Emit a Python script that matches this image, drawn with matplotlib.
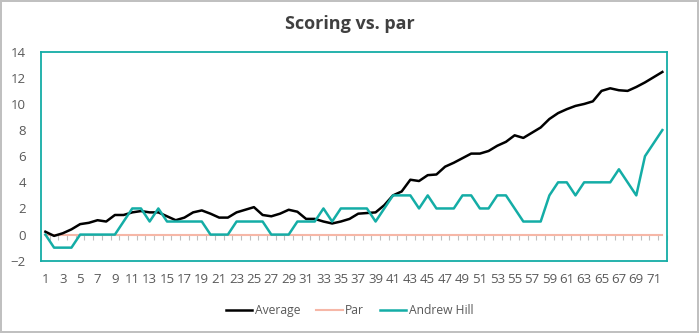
import numpy as np
import matplotlib.pyplot as plt

plt.rcParams['font.family'] = ['Open Sans', 'DejaVu Sans']

holes = list(range(1, 73))
average = [0.22, -0.1, 0.1, 0.4, 0.8, 0.9, 1.1, 1.0, 1.5, 1.5,
           1.7, 1.8, 1.7, 1.7, 1.4, 1.1, 1.3, 1.7, 1.85, 1.6,
           1.3, 1.3, 1.7, 1.9, 2.1, 1.5, 1.4, 1.6, 1.9, 1.75,
           1.2, 1.2, 1.0, 0.85, 1.0, 1.2, 1.6, 1.65, 1.7, 2.25,
           3.0, 3.3, 4.2, 4.1, 4.55, 4.6, 5.2, 5.5, 5.85, 6.2,
           6.2, 6.4, 6.8, 7.1, 7.6, 7.4, 7.8, 8.2, 8.85, 9.3,
           9.6, 9.85, 10.0, 10.2, 11.0, 11.2, 11.05, 11.0, 11.3, 11.65,
           12.05, 12.45]
par = [0] * 72
andrew_hill = [0, -1, -1, -1, 0, 0, 0, 0, 0, 1,
               2, 2, 1, 2, 1, 1, 1, 1, 1, 0,
               0, 0, 1, 1, 1, 1, 0, 0, 0, 1,
               1, 1, 2, 1, 2, 2, 2, 2, 1, 2,
               3, 3, 3, 2, 3, 2, 2, 2, 3, 3,
               2, 2, 3, 3, 2, 1, 1, 1, 3, 4,
               4, 3, 4, 4, 4, 4, 5, 4, 3, 6,
               7, 8]

teal = '#14ADA6'
text_col = '#595959'

fig = plt.figure(figsize=(6.99, 3.33), dpi=100)
fig.patch.set_edgecolor('#C0C0C0')
fig.patch.set_linewidth(1.5)
ax = fig.add_axes([0.0587, 0.2171, 0.8951, 0.6276])

ax.plot(holes, average, color='black', lw=1.8, label='Average', zorder=4)
ax.plot(holes, par, color='#F6B7A7', lw=1.5, label='Par', zorder=3)
ax.plot(holes, andrew_hill, color=teal, lw=1.8, label='Andrew Hill', zorder=5)

ymin, ymax = -2, 14
ax.set_xlim(0.5, 72.5)
ax.set_ylim(ymin, ymax)
ax.set_yticks(range(-2, 15, 2))
ax.set_xticks(holes[::2])
ax.tick_params(axis='both', length=0, labelsize=9.5, colors=text_col)
ax.tick_params(axis='x', pad=9)
ax.tick_params(axis='y', pad=11)
for s in ax.spines.values():
    s.set_color(teal)
    s.set_linewidth(1.3)

# category axis crossing at zero, tick marks between categories
sec = ax.secondary_xaxis((0 - ymin) / (ymax - ymin))
sec.set_xticks(np.arange(0.5, 73, 1))
sec.tick_params(axis='x', direction='out', length=3.5, width=0.8,
                color='#BFBFBF', labelbottom=False)
sec.spines['bottom'].set_visible(False)

fig.suptitle('Scoring vs. par', x=0.5, y=0.955, fontsize=13,
             fontweight='bold', color='#404040')

fig.legend(loc='center', bbox_to_anchor=(0.5, 0.067), ncol=3, frameon=False,
           fontsize=8.7, labelcolor=text_col, handlelength=2.2,
           columnspacing=1.3, handletextpad=0.2)

fig.savefig('out.png', dpi=100, edgecolor=fig.get_edgecolor())
